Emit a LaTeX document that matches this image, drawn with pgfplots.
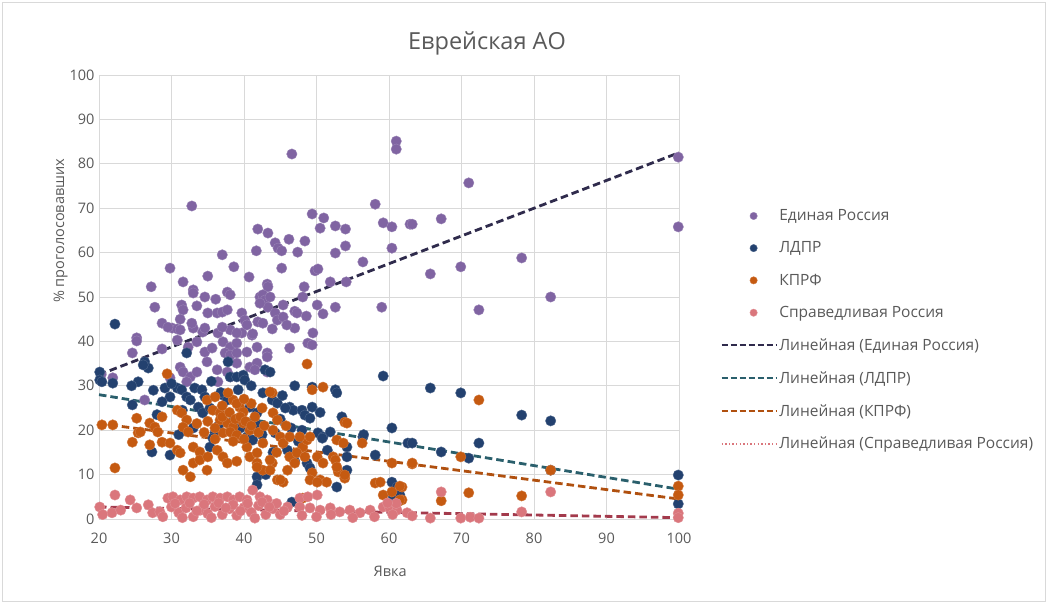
\documentclass[border=0pt]{standalone}
\usepackage{pgfplots}
\pgfplotsset{compat=1.18}
\usepackage{fontspec}
\setmainfont{Open Sans}
\definecolor{erc}{HTML}{8064A2}
\definecolor{ldc}{HTML}{23416F}
\definecolor{kpc}{HTML}{C55A11}
\definecolor{src}{HTML}{DA767C}
\definecolor{ertr}{HTML}{2F2B4C}
\definecolor{ldtr}{HTML}{2A5F6C}
\definecolor{kptr}{HTML}{B0500F}
\definecolor{srtr}{HTML}{A33A4C}
\definecolor{txt}{HTML}{595959}
\pgfplotsset{
  mk/.style={only marks, mark=*, mark size=5.2pt, color=#1, mark options={draw=#1!80!white, line width=0.4pt},
    legend image code/.code={\draw[##1, mark size=3.7pt] plot coordinates {(32pt,0pt)};}},
  trl/.style={color=#1, dash pattern=on 7.5pt off 4pt, line width=2.8pt,
    legend image code/.code={\draw[##1, line width=2.3pt, dash pattern=on 6pt off 3pt] (0pt,0pt) -- (55pt,0pt);}},
  srleg/.style={legend image code/.code={\draw[src, line width=1.6pt, dash pattern=on 1.4pt off 2.2pt] (0pt,0pt) -- (55pt,0pt);}},
}
\begin{document}
\begin{tikzpicture}
\path[use as bounding box] (-99pt,-84pt) rectangle (948pt,519pt);
\draw[gray!30, line width=0.8pt] (-97pt,-82pt) rectangle (946pt,517pt);
\begin{axis}[
  scale only axis, width=580pt, height=444pt,
  xmin=20, xmax=100, ymin=0, ymax=100,
  xtick={20,30,...,100}, ytick={0,10,...,100},
  grid=major, major grid style={draw=black!15, line width=0.8pt},
  axis line style={draw=none}, tick style={draw=none},
  ticklabel style={font=\fontsize{14.5}{17}\selectfont, text=txt},
  /pgf/number format/assume math mode=true,
  yticklabel style={xshift=-1pt},
  xticklabel style={yshift=-10pt},
  title={Еврейская АО},
  title style={at={(0.669,1.045)}, anchor=base, font=\fontsize{23.5}{28}\selectfont, text=txt},
  xlabel={Явка},
  xlabel style={at={(0.502,-0.119)}, anchor=center, font=\fontsize{14.5}{17}\selectfont, text=txt},
  ylabel={\% проголосовавших},
  ylabel style={at={(-0.066,0.649)}, anchor=center, font=\fontsize{14.5}{17}\selectfont, text=txt},
  legend style={at={(1.066,0.705)}, anchor=north west, draw=none, fill=none,
    font=\fontsize{15.5}{18}\selectfont, text=txt, row sep=16.6pt,
    nodes={inner sep=1.5pt, anchor=west}},
  legend cell align=left,
]
% Единая Россия
\addplot[mk=erc] coordinates {
(46.6,82.2) (61,85.1) (61,83.3) (32.8,70.5) (58.1,70.9) (59.2,66.7) (60.4,65.8) (60.4,61) (62.9,66.4) (49.4,68.7)
(51,67.8) (50.5,65.5) (52.6,66) (54,65.3) (54,61.5) (52.6,59.9) (56.4,57.9) (41.9,65.3) (43.3,64.4) (46.2,63)
(48.4,62.6) (44.3,62.2) (44.7,61) (45.2,60.4) (47.4,60.1) (41.7,60.4) (37,59.5) (38.6,56.8) (29.8,56.5) (45.2,56.5)
(35,54.7) (31.6,53.4) (27.2,52.3) (40.7,54.5) (49.8,55.9) (50.2,56.3) (48.3,52.3) (51.9,53.4) (54.1,53.4) (43.2,52.9)
(43.3,52.3) (33,51.6) (33,50.9) (34.6,50) (36.1,49.5) (37.7,51.1) (38.1,50.5) (42.2,50) (42.6,50.5) (42.9,49.3)
(43.6,50) (27.7,47.7) (31.4,48.2) (31.6,47.1) (33.5,48) (48.1,50) (50.1,48.2) (52.6,47.7) (59,47.7) (45.4,48.2)
(35,46.4) (36.3,46.4) (37,46.6) (37.7,47.1) (31.2,45) (28.7,44.1) (30.1,43) (30.8,42.8) (33,43) (34.3,42.1)
(36.4,41.9) (38.1,42.6) (39.7,46.4) (40.1,44.8) (41.9,44.4) (43.3,47.7) (42.2,48.6) (25.2,40.8) (39.7,41.9) (41.1,41.4)
(44.3,46.4) (44.6,44.8) (47,46.8) (47.3,46.4) (48.6,45.7) (50.9,46.2) (43.9,42.8) (47,43) (41.2,41.7) (49.5,41.9)
(45.4,45.5) (45.9,43.7) (42.6,44.1) (40.4,43.7) (39,41.9) (37,43.2) (34.6,43) (32.8,44.1) (31.2,42.6) (29.5,43.2)
(25.2,40.1) (24.6,37.4) (28.7,38.3) (30.8,40.3) (32.3,38.7) (33.5,39.9) (34.6,37.6) (35.6,38.5) (37.1,39.9) (38.1,38.7)
(39,39.6) (37.4,37.4) (38.1,36.9) (39,37.4) (40.4,37.6) (41.8,38.7) (43.2,37.4) (46.3,38.5) (48.8,39.6) (49.4,39.2)
(31.2,34.2) (31.6,33.1) (32.6,32) (32.1,30.9) (33.5,33.1) (34.9,35.4) (36.3,33.6) (36.4,30.9) (39,35.1) (40.8,34.2)
(43.2,36.5) (29.8,31.8) (37.7,33.1) (38.1,32) (26.3,26.8) (21.9,31.8) (41.8,35.1) (41.5,33.6) (43.2,33.1) (20.3,32.5)
(99.9,81.5) (99.9,65.8) (71,75.7) (63.2,66.4) (67.2,67.6) (65.7,55.2) (69.9,56.8) (78.3,58.8) (82.3,50) (72.4,47.1)
};
\addlegendentry{Единая Россия}
% ЛДПР
\addplot[mk=ldc] coordinates {
(22.2,43.9) (20.1,33.1) (20.1,31.3) (20.4,30.9) (21.9,30.6) (25.4,30.9) (26.3,35.4) (26.8,34) (26.1,34.7) (24.6,25.7)
(27.3,15.1) (29.8,14.4) (29.1,29.5) (29.8,27.5) (28.7,26.4) (32.1,37.4) (30.8,29.5) (31.4,29.1) (32.1,27.5) (33.2,29.5)
(34.2,29.1) (34.6,27.5) (32.6,26.8) (33.7,25.2) (34.3,23.9) (35.3,25) (37.8,35.4) (38.1,32) (39,32) (39.9,32.4)
(40.1,31.3) (39.2,29.1) (37.1,27.9) (37.7,26.8) (42.9,33.6) (43.6,33.1) (42.6,28.4) (43.9,26.8) (40.8,25.2) (41.8,23.9)
(44.6,26.1) (46.3,25.2) (46.8,24.5) (47,30) (48,24.5) (49.4,25.2) (49.4,29.7) (52.6,29.1) (52.8,28.4) (48.4,23.4)
(49.1,22.7) (50.2,19.4) (50.9,18.5) (51.9,19.6) (36,19.4) (35.7,18.2) (35.3,16.2) (40.4,18.5) (41.2,17.8) (44.3,19.4)
(41.8,9.5) (41.8,7.7) (46.6,3.8) (48.7,12.6) (49.1,11.5) (54.2,16.2) (54.2,14) (54.2,11) (52.8,7.2) (56.4,18.5)
(58.1,14.4) (59.2,32.2) (60.4,20.5) (62.6,17.1) (60.4,8.3) (61.1,7.2) (60.6,5) (65.7,29.5) (69.9,28.4) (78.3,23.4)
(82.3,22.1) (72.4,17.1) (63.2,17.1) (67.2,15.1) (71,13.7) (99.9,9.9) (99.9,3.4) (82.3,11) (61.5,5.4) (45.7,25)
(50.8,18.2) (38.5,22) (36.5,21) (42,21) (45,22.5) (33,20.5) (31,19) (39.5,20.5) (44,15) (46,15.5)
(47.5,17.5) (24.5,30) (27.5,29) (30,30.5) (35.5,31) (36.8,28.5) (41,30) (45.3,27.8) (50.5,24) (53.5,23)
(56.5,19) (42.5,19) (46.5,20.5) (31.5,24.5) (28,23.5) (48,20) (51.5,15.5) (47,13) (43,10)
};
\addlegendentry{ЛДПР}
% КПРФ
\addplot[mk=kpc] coordinates {
(20.4,21.2) (21.9,21.2) (22.2,11.5) (24.6,17.3) (25.4,19.4) (25.7,19.6) (25.2,22.7) (27,21.6) (27.7,20.7) (28.1,19.6)
(27,16.7) (28.7,23) (29.4,32.7) (28.7,17.3) (29.8,17.1) (30.8,24.5) (31.4,23.9) (32.1,22.3) (31.6,20.7) (32.3,19.6)
(30.8,15.5) (31.2,14.9) (31.6,11) (32.6,9.5) (33,16.2) (33.9,15.1) (33,12.6) (33.9,13.3) (34.9,11) (34.9,26.8)
(36,27.5) (35.7,24.5) (36.7,23.9) (36.7,22.3) (37.7,21.6) (38.5,20.7) (37.1,19.4) (38.1,19.6) (39,18.9) (36.3,15.5)
(37.1,14) (37.7,12.6) (38.5,26.8) (39.4,25.2) (39.9,24.1) (37.8,28.4) (39.9,21.6) (40.8,20) (40.4,16.2) (40.8,14)
(41.8,14.9) (42.6,17.1) (41.8,12.6) (42.6,11) (43.9,12.6) (43.9,28.4) (44,23.9) (44.6,22.3) (44.6,8.8) (45.4,8.3)
(46.3,14) (47,12.6) (48.1,16.2) (48.7,17.8) (48.7,34.9) (49.4,29.1) (50.9,29.7) (47.7,18.5) (49.1,18.5) (50.1,14)
(50.9,12.6) (49.4,10.4) (50.5,8.8) (51.4,8.3) (52.3,14) (53,10.6) (53.9,21.8) (52.8,17.8) (53.7,17.1) (53.9,9.2)
(56.3,17.1) (58.1,8.1) (58.8,8.3) (59.2,5.4) (60.4,6.1) (60.4,12.6) (61.8,4.3) (61.8,7.2) (43.6,28.6) (54.2,21.6)
(63.2,12.4) (61.2,3.8) (47.3,14.9) (48.4,14) (52.6,13.3) (52.8,11.7) (53.9,9.9) (49.1,8.8) (50.1,8.3) (48.1,4.7)
(45,8.8) (45,18.5) (45.4,17.1) (46.3,18.5) (43.6,13.3) (43.6,11) (41.8,11.7) (72.4,26.8) (63.2,12.6) (69.9,14)
(82.3,11) (71,5.9) (67.2,4.1) (78.3,5.2) (99.9,7.4) (99.9,5.4) (61.5,7.4) (61.5,4.3)
(35,22) (36,20.5) (37,23) (38,24) (38.8,22.5) (39.5,23) (40.2,22) (41,21) (41.5,23) (42,19.5)
(42.8,21) (38.5,17.5) (40,18) (36,18) (34.5,19.5) (33.5,21.5) (39,26) (41,26) (42.5,25) (40,27)
(37,25.5) (44,20) (45.8,21) (35,14) (39,13) (44.5,15) (46,11)
};
\addlegendentry{КПРФ}
% Справедливая Россия
\addplot[mk=src] coordinates {
(20.1,2.7) (22.2,5.4) (21.8,1.4) (24.3,4.3) (25.2,2.5) (26.8,3.2) (27.4,1.4) (28.4,1.6) (28.8,0.5) (23,2)
(20.5,1) (29.5,4.7) (30.2,5) (31.2,4.3) (32.1,5) (33,4.7) (33.9,5) (34.9,4.3) (35.7,5) (36.7,4.7)
(37.7,5) (38.5,4.3) (39.4,5) (40.4,4.3) (41.2,6.5) (42.2,5) (43.2,4.3)
(30,2.7) (31,1.4) (32,2.5) (33,0.5) (34,2) (35,1.2) (36,2.8) (37,1) (38,2.3) (39,0.8)
(40,2.6) (41,1.5) (42,3) (43,1) (44,2.3) (45,1) (46,2.7) (30.5,3.5) (32.5,3.6) (34.5,3.3)
(36.5,3.6) (38.5,3.2) (40.5,3.5) (42.5,3.8) (44.5,3.5) (31.5,0.3) (33.5,1.8) (35.5,0.3) (37.5,2.5) (39.5,1.8)
(41.5,0.2) (43.5,2.7) (45.5,1.8)
(47.7,4.7) (48.8,5) (50.1,5.4) (47.7,2.7) (49.1,2.5) (50.5,2) (51.9,2.5) (53.2,1.6) (54.6,2) (56,1.4)
(57.4,2) (59.2,2.7) (60.1,2.5) (61.1,2) (62.5,1.4) (48,0.8) (50,0.5) (52,1) (55,0.3) (58,0.5)
(60.5,1) (61,3.5) (59.8,3.6)
(67.2,6.1) (82.3,6.1) (78.3,1.6) (63.2,0.7) (65.7,0.2) (69.9,0.2) (71.2,0.4) (72.4,0.2) (99.9,1.3) (99.9,0.3)
};
\addlegendentry{Справедливая Россия}
% trend lines
\addplot[trl=ertr] coordinates {(20,32.5) (100,82.5)};
\addlegendentry{Линейная (Единая Россия)}
\addplot[trl=ldtr] coordinates {(20,28) (100,6.7)};
\addlegendentry{Линейная (ЛДПР)}
\addplot[trl=kptr] coordinates {(20,21.5) (100,4.5)};
\addlegendentry{Линейная (КПРФ)}
\addplot[trl=srtr, srleg] coordinates {(20,2.7) (100,0.3)};
\addlegendentry{Линейная (Справедливая Россия)}
\end{axis}
\end{tikzpicture}
\end{document}
